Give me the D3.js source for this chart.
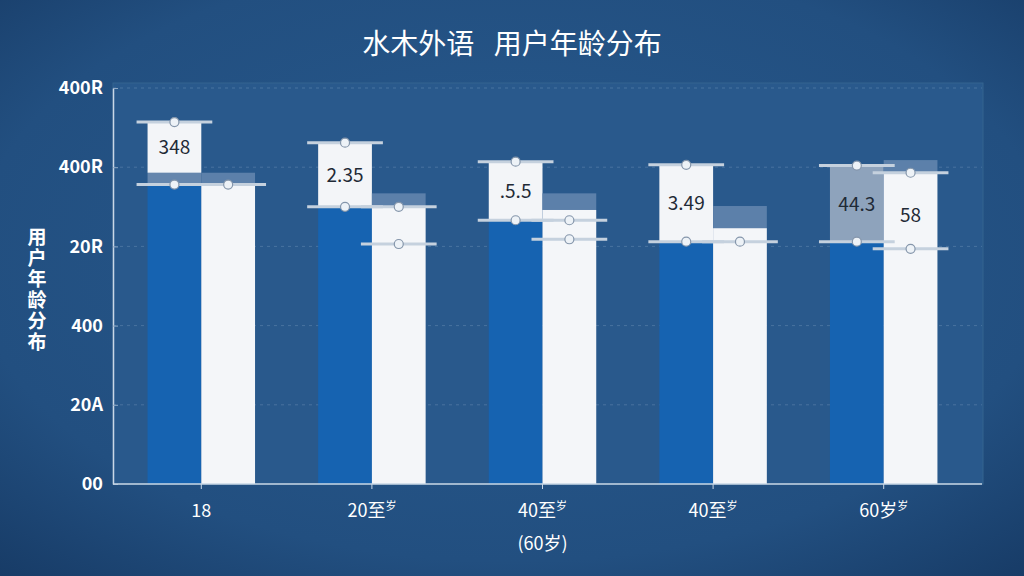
<!DOCTYPE html>
<html>
<head>
<meta charset="utf-8">
<script src="https://cdn.jsdelivr.net/npm/d3@7"></script>
<style>
  html, body { margin: 0; padding: 0; background: #224f82; }
  svg { display: block; }
</style>
</head>
<body>
<script>
// chart values
var categories = ["18", "20至", "40至", "40至", "60岁"];
var catSup = ["", "岁", "岁", "岁", "岁"];
var catSecond = ["", "", "(60岁)", "", ""];
var yTicks = [0, 100, 200, 300, 400, 500];
var yLabels = ["00", "20A", "400", "20R", "400R", "400R"];

var blueValues = [378, 350, 333, 306, 306];
var blueCap = [393, 350, 333, 306, 306];
var blueHigh = [457, 431, 407, 403, 402];
var blueLabels = ["348", "2.35", ".5.5", "3.49", "44.3"];

var whiteValues = [378, 350, 346, 323, 394];
var whiteCap = [393, 367, 367, 351, 409];
var whiteMarks = [[378], [350, 303], [333, 309], [306], [393, 297]];
var whiteLabels = ["", "", "", "", "58"];

var width = 1024, height = 576;
var font = "'Noto Sans CJK SC', 'Noto Sans', sans-serif";

var svg = d3.select("body").append("svg")
    .attr("width", width)
    .attr("height", height);

var defs = svg.append("defs");
var bg = defs.append("radialGradient").attr("id", "bg")
    .attr("cx", "50%").attr("cy", "45%").attr("r", "75%");
bg.append("stop").attr("offset", "0%").attr("stop-color", "#285a8e");
bg.append("stop").attr("offset", "70%").attr("stop-color", "#224f80");
bg.append("stop").attr("offset", "100%").attr("stop-color", "#173b66");

svg.append("rect").attr("width", width).attr("height", height).attr("fill", "url(#bg)");

var x0 = d3.scaleBand()
    .domain(d3.range(categories.length))
    .range([116, 969])
    .paddingInner(0.37)
    .paddingOuter(0.185);

var x1 = d3.scaleBand()
    .domain(["blue", "white"])
    .range([0, x0.bandwidth()]);

var y = d3.scaleLinear()
    .domain([0, 500])
    .range([484, 88]);

// plot panel
svg.append("rect")
    .attr("x", 113).attr("y", 83)
    .attr("width", 870).attr("height", y(0) - 83)
    .attr("fill", "#29598c")
    .attr("stroke", "#35658f")
    .attr("stroke-width", 1);

// dashed grid
svg.append("g")
    .selectAll("line")
    .data(yTicks.slice(1))
    .join("line")
    .attr("x1", 113).attr("x2", 982)
    .attr("y1", function(d) { return y(d); })
    .attr("y2", function(d) { return y(d); })
    .attr("stroke", "rgba(200,220,240,0.2)")
    .attr("stroke-dasharray", "3,4");

var groups = svg.append("g")
    .selectAll("g")
    .data(categories)
    .join("g")
    .attr("transform", function(d, i) { return "translate(" + x0(i) + ",0)"; });

var bw = x1.bandwidth();

// blue bars
groups.append("rect")
    .attr("x", x1("blue")).attr("width", bw)
    .attr("y", function(d, i) { return y(blueValues[i]); })
    .attr("height", function(d, i) { return y(0) - y(blueValues[i]); })
    .attr("fill", "#1663b1");

// grey cap on blue
groups.append("rect")
    .attr("x", x1("blue")).attr("width", bw)
    .attr("y", function(d, i) { return y(blueCap[i]); })
    .attr("height", function(d, i) { return y(blueValues[i]) - y(blueCap[i]); })
    .attr("fill", "#6586ad");

// label boxes above blue
groups.append("rect")
    .attr("x", x1("blue")).attr("width", bw)
    .attr("y", function(d, i) { return y(blueHigh[i]); })
    .attr("height", function(d, i) { return y(blueCap[i]) - y(blueHigh[i]); })
    .attr("fill", function(d, i) { return i === 4 ? "#8ea3bc" : "#f3f5f8"; });

groups.append("text")
    .attr("x", x1("blue") + bw / 2)
    .attr("y", function(d, i) { return (y(blueHigh[i]) + y(blueCap[i])) / 2 + 7; })
    .attr("text-anchor", "middle")
    .attr("font-family", font)
    .attr("font-size", 19)
    .attr("fill", "#1f2a36")
    .text(function(d, i) { return blueLabels[i]; });

// white bars with cap
groups.append("rect")
    .attr("x", x1("white")).attr("width", bw)
    .attr("y", function(d, i) { return y(whiteCap[i]); })
    .attr("height", function(d, i) { return y(whiteValues[i]) - y(whiteCap[i]); })
    .attr("fill", "#5c80aa");

groups.append("rect")
    .attr("x", x1("white")).attr("width", bw)
    .attr("y", function(d, i) { return y(whiteValues[i]); })
    .attr("height", function(d, i) { return y(0) - y(whiteValues[i]); })
    .attr("fill", "#f4f6f9");

groups.append("text")
    .attr("x", x1("white") + bw / 2)
    .attr("y", function(d, i) { return y(whiteValues[i]) + 50; })
    .attr("text-anchor", "middle")
    .attr("font-family", font)
    .attr("font-size", 19)
    .attr("fill", "#1f2a36")
    .text(function(d, i) { return whiteLabels[i]; });

// whisker lines and dots
function marker(g, cx, left, right, v) {
    g.append("line")
        .attr("x1", left).attr("x2", right)
        .attr("y1", y(v)).attr("y2", y(v))
        .attr("stroke", "#c5d1de")
        .attr("stroke-width", 3);
    g.append("circle")
        .attr("cx", cx).attr("cy", y(v)).attr("r", 4.5)
        .attr("fill", "#edf2f7")
        .attr("stroke", "#8596ab")
        .attr("stroke-width", 1.2);
}

groups.each(function(d, i) {
    var g = d3.select(this);
    var bx = x1("blue"), wx = x1("white");
    marker(g, bx + bw / 2, bx - 11, bx + bw + 11, blueHigh[i]);
    marker(g, bx + bw / 2, bx - 11, bx + bw + 11, blueValues[i]);
    whiteMarks[i].forEach(function(v) {
        marker(g, wx + bw / 2, wx - 11, wx + bw + 11, v);
    });
});

// axes
var yAxis = svg.append("g")
    .attr("transform", "translate(113,0)")
    .call(d3.axisLeft(y).tickValues(yTicks)
        .tickFormat(function(d, i) { return yLabels[i]; })
        .tickSizeInner(-5).tickSizeOuter(0).tickPadding(10));
yAxis.select(".domain").attr("stroke", "#c9d7e6").attr("stroke-width", 1.5);
yAxis.selectAll(".tick line").attr("stroke", "#8fa9c6");
yAxis.selectAll("text")
    .attr("fill", "#ffffff")
    .attr("font-family", font)
    .attr("font-size", 18)
    .attr("font-weight", "bold");

var xAxis = svg.append("g")
    .attr("transform", "translate(0," + y(0) + ")")
    .call(d3.axisBottom(x0).tickFormat("").tickSizeInner(5).tickSizeOuter(0));
xAxis.select(".domain").attr("stroke", "#c9d7e6").attr("stroke-width", 1.5)
    .attr("d", "M113,0H982");
xAxis.selectAll(".tick line").attr("stroke", "#c9d7e6");

var xText = xAxis.selectAll(".tick").append("text")
    .attr("y", 33)
    .attr("text-anchor", "middle")
    .attr("fill", "#ffffff")
    .attr("font-family", font)
    .attr("font-size", 18);
xText.append("tspan")
    .text(function(d) { return categories[d]; });
xText.append("tspan")
    .attr("font-size", 11)
    .attr("dy", -7)
    .text(function(d) { return catSup[d]; });
xAxis.selectAll(".tick").append("text")
    .attr("y", 66)
    .attr("text-anchor", "middle")
    .attr("fill", "#ffffff")
    .attr("font-family", font)
    .attr("font-size", 18)
    .text(function(d) { return catSecond[d]; });

// titles
svg.append("text")
    .attr("x", 512).attr("y", 54)
    .attr("text-anchor", "middle")
    .attr("fill", "#ffffff")
    .attr("font-family", font)
    .attr("font-size", 28)
    .style("white-space", "pre")
    .text("水木外语\u2002\u2009用户年龄分布");

svg.append("text")
    .attr("x", 37).attr("y", 227)
    .attr("fill", "#ffffff")
    .attr("font-family", font)
    .attr("font-size", 19)
    .attr("font-weight", "bold")
    .style("writing-mode", "vertical-rl")
    .style("letter-spacing", "2px")
    .text("用户年龄分布");
</script>
</body>
</html>
